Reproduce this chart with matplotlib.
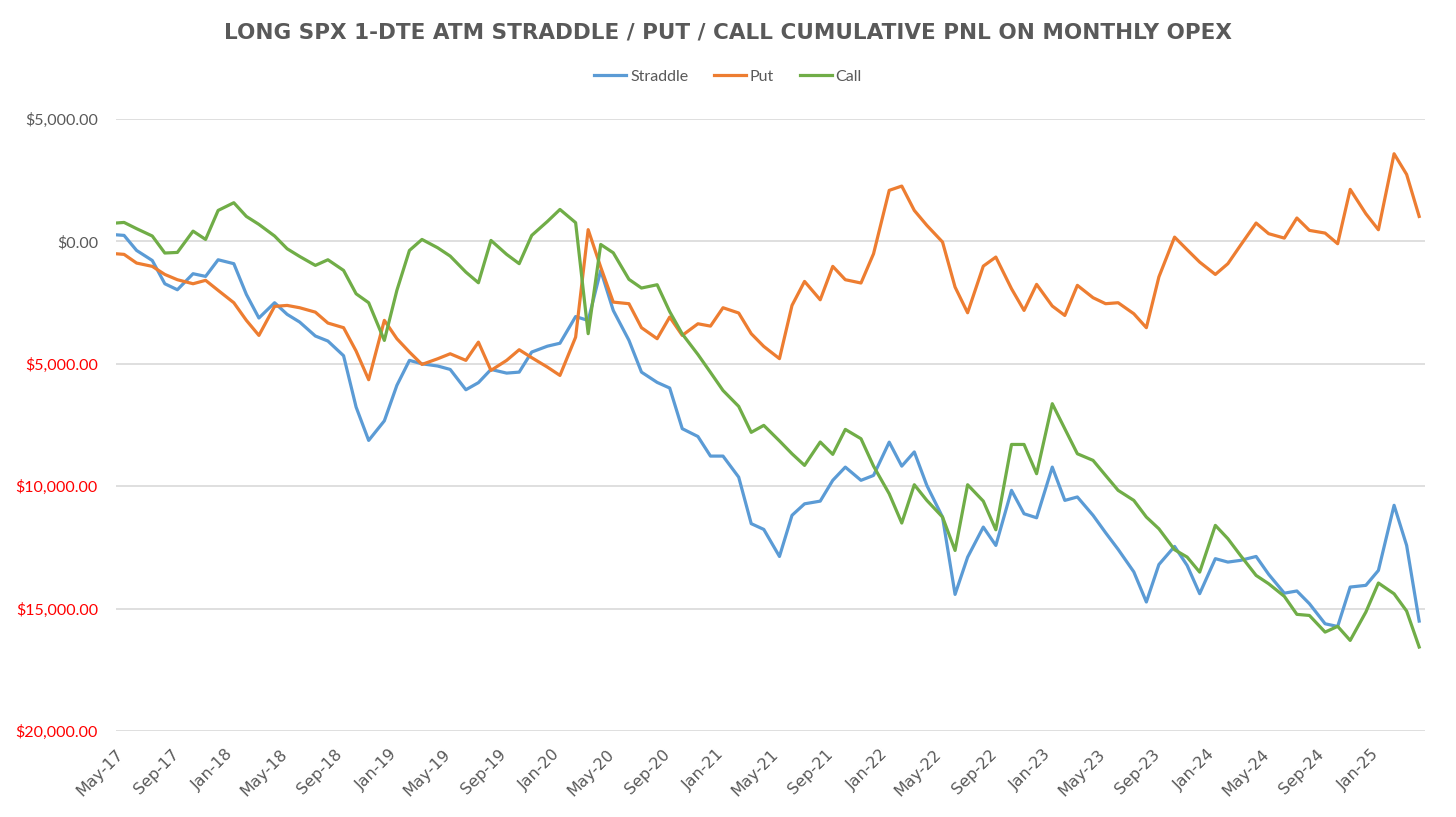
import numpy as np
import pandas as pd
import matplotlib
matplotlib.use("Agg")
import matplotlib.pyplot as plt
import matplotlib.dates as mdates
import matplotlib.transforms as mtransforms
from matplotlib.ticker import FuncFormatter

# start point + monthly opex dates (May-17 .. Apr-25)
start_date = pd.Timestamp("2017-05-01")
opex_dates = pd.date_range(start="2017-05-01", periods=96, freq="WOM-3FRI")
dates = [start_date] + list(opex_dates)

straddle = [270, 245, -370, -780, -1730, -1975, -1320, -1430, -750, -910,
            -2165, -3130, -2505, -2980, -3295, -3865, -4070, -4670, -6770, -8130,
            -7330, -5880, -4860, -5000, -5090, -5230, -6060, -5770, -5230, -5380,
            -5340, -4520, -4280, -4160, -3070, -3230, -1185, -2820, -4040, -5340,
            -5760, -5990, -7650, -7970, -8770, -8770, -9630, -11530, -11765, -12870,
            -11190, -10720, -10610, -9760, -9220, -9760, -9560, -8200, -9180, -8600,
            -9970, -11260, -14420, -12900, -11670, -12420, -10170, -11125, -11290, -9220,
            -10580, -10440, -11190, -11900, -12580, -13500, -14730, -13200, -12460, -13235,
            -14390, -12960, -13100, -13030, -12870, -13600, -14370, -14280, -14800, -15620,
            -15730, -14120, -14050, -13440, -10780, -12420, -15510]

put = [-505, -530, -885, -1020, -1350, -1565, -1730, -1590, -2000, -2505,
       -3225, -3840, -2655, -2615, -2710, -2890, -3335, -3525, -4480, -5650,
       -3225, -3975, -4520, -5025, -4795, -4590, -4860, -4115, -5270, -4860,
       -4425, -4750, -5135, -5475, -3910, 480, -1050, -2480, -2545, -3525,
       -3975, -3090, -3840, -3365, -3460, -2710, -2925, -3770, -4290, -4790,
       -2615, -1635, -2385, -1020, -1565, -1700, -505, 2085, 2260, 1265,
       655, -25, -1865, -2915, -1010, -640, -1935, -2820, -1755, -2640,
       -3025, -1795, -2300, -2545, -2505, -2955, -3525, -1450, 175, -340,
       -845, -1350, -910, -165, 750, 315, 135, 955, 450, 340,
       -95, 2125, 1130, 475, 3580, 2735, 1020]

call = [750, 775, 520, 220, -475, -450, 420, 80, 1265, 1580,
        1020, 695, 220, -300, -615, -980, -750, -1185, -2140, -2505,
        -4045, -2000, -370, 80, -260, -600, -1255, -1690, 40, -530,
        -910, 245, 815, 1305, 765, -3770, -125, -465, -1550, -1905,
        -1770, -2870, -3780, -4620, -5350, -6090, -6740, -7800, -7515, -8150,
        -8675, -9150, -8195, -8700, -7680, -8060, -9180, -10310, -11505, -9940,
        -10580, -11260, -12625, -9940, -10610, -11780, -8295, -8295, -9490, -6630,
        -7655, -8675, -8945, -9560, -10170, -10580, -11260, -11740, -12595, -12895,
        -13510, -11600, -12145, -12825, -13645, -13985, -14500, -15235, -15280, -15960,
        -15725, -16300, -15140, -13955, -14395, -15100, -16570]

series_names = ["Straddle", "Put", "Call"]
series_colors = ["#5B9BD5", "#ED7D31", "#70AD47"]
y_ticks = [5000, 0, -5000, -10000, -15000, -20000]
x_ticks = pd.date_range("2017-05-01", "2025-01-01", freq="4MS")

grey = "#595959"

fig = plt.figure(figsize=(14.56, 8.17), dpi=100)
ax = fig.add_axes([116 / 1456, 1 - 731 / 817, (1425 - 116) / 1456, (731 - 119) / 817])

for name, vals, col in zip(series_names, [straddle, put, call], series_colors):
    ax.plot(dates, vals, color=col, lw=2.3, label=name, solid_joinstyle="round")

ax.set_ylim(-20000, 5000)
ax.set_xlim(pd.Timestamp("2017-05-01"), pd.Timestamp("2025-05-01"))
ax.set_yticks(y_ticks)
ax.yaxis.set_major_formatter(FuncFormatter(lambda v, p: "${:,.2f}".format(abs(v))))
ax.grid(axis="y", color="#D9D9D9", lw=1.2)
ax.set_axisbelow(True)
for s in ax.spines.values():
    s.set_visible(False)

ax.set_xticks(x_ticks)
ax.xaxis.set_major_formatter(mdates.DateFormatter("%b-%y"))
ax.tick_params(axis="both", length=0)
ax.tick_params(axis="y", pad=13, labelsize=11.5)
ax.tick_params(axis="x", pad=15, labelsize=11.5, labelcolor=grey)

for lab, v in zip(ax.get_yticklabels(), y_ticks):
    lab.set_fontfamily("Lato")
    lab.set_color("#FF0000" if v < 0 else grey)

offset = mtransforms.ScaledTranslation(5 / 100, 0, fig.dpi_scale_trans)
for lab in ax.get_xticklabels():
    lab.set_rotation(45)
    lab.set_ha("right")
    lab.set_rotation_mode("anchor")
    lab.set_va("center")
    lab.set_transform(lab.get_transform() + offset)

fig.text(0.5, 1 - 32 / 817, "LONG SPX 1-DTE ATM STRADDLE / PUT / CALL CUMULATIVE PNL ON MONTHLY OPEX",
         ha="center", va="center", fontsize=15.5, color=grey, fontweight="bold")

fig.legend(loc="center", bbox_to_anchor=(0.5, 1 - 77 / 817), ncol=3, frameon=False,
           prop={"family": "Lato", "size": 11.5}, labelcolor=grey,
           handlelength=2.0, columnspacing=1.6, handletextpad=0.25)

fig.savefig("out.png", dpi=100, facecolor="white")
